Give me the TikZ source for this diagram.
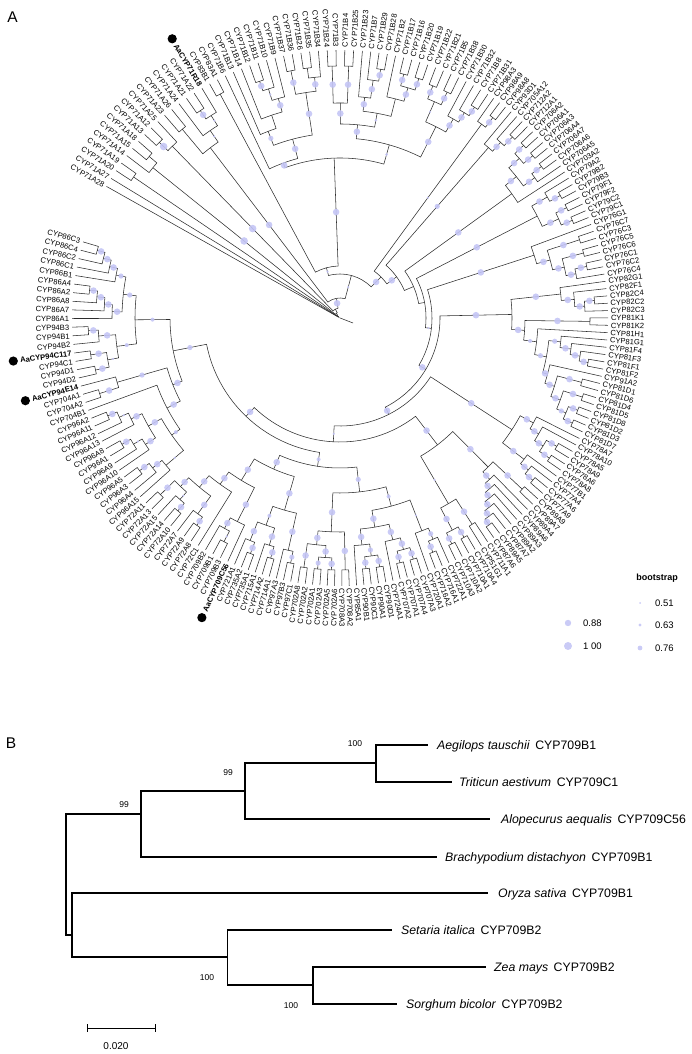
\documentclass[tikz,border=0pt]{standalone}
\usepackage{fontspec}
\setmainfont{Liberation Sans}
\usetikzlibrary{calc}

\definecolor{bootc}{RGB}{196,197,245}
\definecolor{branchc}{RGB}{45,45,45}

\tikzset{
  branch/.style={draw=branchc, line width=0.55pt},
  boot/.style={fill=bootc, fill opacity=0.9},
  leaflbl/.style={inner sep=0.8pt, text height=5.5pt, text depth=0pt, font=\fontsize{7.6}{8}\selectfont},
  aadot/.style={fill=black},
  treeb/.style={line width=1.9pt},
  sp/.style={anchor=west, inner sep=0pt, text height=8.8pt, text depth=0pt, font=\fontsize{12.3}{14}\selectfont},
  bsv/.style={inner sep=0pt, font=\fontsize{8.5}{9}\selectfont},
  legtxt/.style={anchor=west, inner sep=0pt, font=\fontsize{9.5}{10}\selectfont},
}

% store angle and radius of a tree node
\newcommand\setnode[3]{%
  \expandafter\xdef\csname tang#1\endcsname{#2}%
  \expandafter\xdef\csname trad#1\endcsname{#3}}
% bootstrap dot half way along the stem of a child
\newcommand\bsdot[2]{%
  \edef\jD{\csname tdot#1\endcsname}%
  \ifdim\jD pt>0pt
    \edef\jT{\csname tang#1\endcsname}%
    \edef\jRc{\csname trad#1\endcsname}%
    \pgfmathsetmacro\jR{(\jRc+#2)/2}%
    \fill[boot] (\jT:\jR pt) circle (\jD pt);%
  \fi}
% join two children into a new node at radius #5
\newcommand\jn[5][0]{%
  \edef\jA{\csname tang#3\endcsname}\edef\jB{\csname tang#4\endcsname}%
  \edef\jRa{\csname trad#3\endcsname}\edef\jRb{\csname trad#4\endcsname}%
  \draw[branch] (\jA:\jRa pt) -- (\jA:#5pt) arc[start angle=\jA, end angle=\jB, radius=#5pt] -- (\jB:\jRb pt);%
  \bsdot{#3}{#5}\bsdot{#4}{#5}%
  \pgfmathsetmacro\jM{(\jA+\jB)/2}%
  \setnode{#2}{\jM}{#5}%
  \expandafter\xdef\csname tdot#2\endcsname{#1}}

\begin{document}
\begin{tikzpicture}[x=1pt,y=1pt]
\useasboundingbox (0,0) rectangle (692,1054);

%Panel A
\node[inner sep=0, font=\fontsize{15.5}{16}\selectfont] (tagA) at (12.5,1036.5) {A};
\begin{scope}[shift={(340,736)}]
	%Leaves
	\foreach \nm [count=\k from 0] in {CYP71A28, CYP71A27, CYP71A20, CYP71A19, CYP71A14, CYP71A15, CYP71A18, CYP71A13, CYP71A12, CYP71A25, CYP71A23, CYP71A26, CYP71A24, CYP71A21, CYP71A22, \textbf{AaCYP71R18},
		CYP83B1, CYP83A1, CYP71B6, CYP71B13, CYP71B14, CYP71B12, CYP71B11, CYP71B10, CYP71B9, CYP71B37, CYP71B36, CYP71B26, CYP71B35, CYP71B34, CYP71B24, CYP71B3, CYP71B4, CYP71B25, CYP71B23, CYP71B7, CYP71B29, CYP71B28, CYP71B2, CYP71B17, CYP71B16, CYP71B20, CYP71B19, CYP71B22, CYP71B21, CYP71B5, CYP71B38, CYP71B30, CYP71B32, CYP71B8, CYP71B31,
		CYP98A3, CYP98A9, CYP98A8, CYP93D1, CYP705A12, CYP712A2, CYP712A1, CYP706A2, CYP706A1, CYP706A3, CYP706A4, CYP706A7, CYP706A6, CYP706A5, CYP703A2,
		CYP79A2, CYP79B2, CYP79B3, CYP79F1, CYP79F2, CYP79C2, CYP79C1, CYP76G1, CYP76C7, CYP76C3, CYP76C5, CYP76C6, CYP76C1, CYP76C2, CYP76C4,
		CYP82G1, CYP82F1, CYP82C4, CYP82C2, CYP82C3, CYP81K1, CYP81K2, CYP81H1, CYP81G1, CYP81F4, CYP81F3, CYP81F1, CYP81F2, CYP91A2, CYP81D1, CYP81D6, CYP81D4, CYP81D5, CYP81D8, CYP81D2, CYP81D3, CYP81D7,
		CYP78A7, CYP78A10, CYP78A5, CYP78A9, CYP78A6, CYP78A8, CYP77B1, CYP77A4, CYP77A6, CYP77A9, CYP89A9, CYP89A7, CYP89A4, CYP89A6, CYP89A3, CYP89A2, CYP87A7, CYP89A5, CYP87A6,
		CYP711A1, CYP51G1, CYP710A4, CYP710A1, CYP710A2, CYP710A3, CYP722A1, CYP716A1, CYP716A2, CYP720A1, CYP707A3, CYP707A4, CYP707A1, CYP707A2, CYP724A1, CYP90D1, CYP90A1, CYP90C1, CYP90B1, CYP85A1,
		CYP708A2, CYP708A3, CYP702A6, CYP702A5, CYP702A3, CYP702A1, CYP702A2, CYP702A8, CYP97C1, CYP97B3, CYP97A3, CYP714A1, CYP714A2, CYP715A1, CYP735A1, CYP735A2, CYP721A1,
		\textbf{AaCYP709C56}, CYP709B3, CYP709B1, CYP709B2, CYP72C1, CYP72A8, CYP72A9, CYP72A7, CYP72A10, CYP72A14, CYP72A15, CYP72A13, CYP72A11,
		CYP96A15, CYP96A4, CYP96A3, CYP96A5, CYP96A10, CYP96A9, CYP96A1, CYP96A8, CYP96A13, CYP96A12, CYP96A11, CYP96A2, CYP704B1, CYP704A2, CYP704A1,
		\textbf{AaCYP94E14}, CYP94D2, CYP94D1, CYP94C1, \textbf{AaCYP94C117}, CYP94B2, CYP94B1, CYP94B3,
		CYP86A1, CYP86A7, CYP86A8, CYP86A2, CYP86A4, CYP86B1, CYP86C1, CYP86C2, CYP86C4, CYP86C3}{%
		\pgfmathsetmacro\lA{\k<=15 ? 150.6-1.973*\k : (\k<=34 ? 121-1.884*(\k-15) : (\k<=50 ? 85.2-1.79*(\k-34) : (\k<=159 ? 56.6-1.572*(\k-50) : (\k<=191 ? -114.7-1.806*(\k-159) : -172.5-1.846*(\k-191)))))}%
		\setnode{\k}{\lA}{268}%
		\expandafter\xdef\csname tdot\k\endcsname{0}%
		\pgfmathsetmacro\lR{\lA>90 ? \lA-180 : (\lA<-90 ? \lA+180 : \lA)}%
		\ifdim\lA pt>90pt \def\lN{east}\else\ifdim\lA pt<-90pt \def\lN{east}\else\def\lN{west}\fi\fi
		\node[leaflbl, anchor=\lN, rotate=\lR] (L\k) at (\lA:270pt) {\nm};
	}
	%Marked genes
	\foreach \k in {15,159,187,191}
		\fill[aadot] ($(L\k.west)!-6pt!(L\k.east)$) circle (4.6pt);

	%CYP71A
	\jn[3.3]{c1}{13}{14}{250}
	\jn[1.2]{c2}{c1}{15}{240}
	\jn[1.2]{c3}{12}{c2}{228}
	\jn{c4}{10}{11}{246}
	\jn[3.3]{c5}{c4}{c3}{214}
	\jn[3.8]{c6}{7}{8}{252}
	\jn[3.8]{c7}{c6}{9}{240}
	\jn{c8}{5}{6}{250}
	\jn[3.8]{c9}{4}{c8}{240}
	\jn{c10}{2}{3}{250}
	%CYP83 and CYP71B
	\jn{g83}{16}{17}{254}
	\jn[3.3]{s1}{21}{22}{250}
	\jn[1.2]{s2}{s1}{23}{240}
	\jn[3.3]{s3}{s2}{24}{228}
	\jn{s4}{20}{s3}{214}
	\jn[2.6]{s5}{19}{s4}{200}
	\jn[3.3]{s6}{25}{26}{252}
	\jn{s7}{27}{28}{252}
	\jn[3.3]{s8}{s7}{29}{242}
	\jn[3.3]{s9}{s6}{s8}{228}
	\jn[3.3]{s10}{s5}{s9}{185}
	\jn[3.3]{s11}{18}{s10}{165}
	\jn[3.3]{t1}{30}{31}{252}
	\jn[3.3]{t2}{32}{33}{252}
	\jn[3.3]{t3}{t1}{t2}{215}
	\jn[3.3]{t4}{36}{37}{252}
	\jn[3.3]{t5}{35}{t4}{240}
	\jn[3.3]{t6}{34}{t5}{222}
	\jn[3.3]{t7}{39}{40}{252}
	\jn[3.3]{t8}{41}{42}{252}
	\jn[3.3]{t9}{t7}{t8}{240}
	\jn{t10}{38}{t9}{226}
	\jn[1.5]{t11}{t6}{t10}{208}
	\jn[3.3]{t12}{t3}{t11}{194}
	\jn[3.3]{u1}{43}{44}{250}
	\jn[3.3]{u2}{45}{46}{250}
	\jn[1.2]{u3}{u1}{u2}{236}
	\jn[3.3]{u4}{49}{50}{250}
	\jn[3.3]{u5}{48}{u4}{240}
	\jn[3.3]{u6}{47}{u5}{229}
	\jn[3.3]{u7}{u3}{u6}{214}
	\jn[1.5]{t13}{t12}{u7}{180}
	\jn[3.3]{g71b}{s11}{t13}{160}
	\jn[1.2]{g1}{g83}{g71b}{52}
	%CYP98 to CYP76
	\jn[3.3]{v1}{52}{53}{252}
	\jn[1.2]{v2}{51}{v1}{240}
	\jn[3.3]{v3}{56}{57}{250}
	\jn[3.3]{v4}{55}{v3}{238}
	\jn[2.6]{v5}{54}{v4}{226}
	\jn[3.3]{v6}{58}{59}{252}
	\jn[3.3]{v7}{60}{61}{252}
	\jn[3.3]{v8}{v6}{v7}{240}
	\jn[3.3]{v9}{62}{63}{252}
	\jn[3.3]{v10}{v9}{64}{240}
	\jn[3.3]{v11}{v8}{v10}{226}
	\jn[3.3]{v12}{v11}{65}{212}
	\jn[3.3]{w1}{67}{68}{252}
	\jn[3.3]{w2}{66}{w1}{240}
	\jn[3.3]{w3}{69}{70}{252}
	\jn[3.3]{w4}{71}{72}{252}
	\jn[3.3]{w5}{w3}{w4}{240}
	\jn[3.3]{w6}{w2}{w5}{222}
	\jn[3.3]{x1}{74}{75}{252}
	\jn[3.3]{x2}{76}{77}{252}
	\jn[3.3]{x3}{78}{79}{252}
	\jn[3.3]{x4}{x3}{80}{240}
	\jn[3.3]{x5}{x2}{x4}{230}
	\jn[3.3]{x6}{x1}{x5}{218}
	\jn[3.3]{x7}{73}{x6}{204}
	%CYP82 and CYP81
	\jn[3.3]{a1}{83}{84}{255}
	\jn[3.3]{a2}{a1}{85}{245}
	\jn[3.3]{a3}{82}{a2}{235}
	\jn[3.3]{a4}{81}{a3}{222}
	\jn[3.3]{e1}{101}{102}{255}
	\jn[3.3]{e2}{99}{100}{255}
	\jn[2.6]{e3}{e2}{e1}{245}
	\jn[3.3]{e4}{97}{98}{255}
	\jn[3.3]{e5}{e4}{e3}{235}
	\jn[3.3]{e6}{95}{96}{250}
	\jn[3.3]{e7}{e6}{e5}{225}
	\jn[3.3]{e8}{94}{e7}{215}
	\jn[3.3]{e9}{92}{93}{252}
	\jn[3.3]{e10}{91}{e9}{243}
	\jn[3.3]{e11}{90}{e10}{233}
	\jn[2.6]{e12}{89}{e11}{222}
	\jn[2.6]{e13}{e12}{e8}{210}
	\jn[2]{e14}{88}{e13}{198}
	\jn[3.3]{e15}{86}{87}{250}
	\jn[3.3]{e16}{e15}{e14}{185}
	\jn[3.3]{g82}{a4}{e16}{172}
	%CYP78, CYP77, CYP89, CYP87
	\jn[3.3]{f1}{105}{106}{252}
	\jn[3.3]{f2}{107}{108}{252}
	\jn[3.3]{f3}{f1}{f2}{240}
	\jn[3.3]{f4}{104}{f3}{230}
	\jn[3.3]{f5}{103}{f4}{220}
	\jn[3.3]{f6}{111}{112}{252}
	\jn[3.3]{f7}{110}{f6}{242}
	\jn[3.3]{f8}{109}{f7}{232}
	\jn[3.3]{f9}{f5}{f8}{205}
	\jn[3.3]{h0}{113}{114}{250}
	\jn[3.3]{h1}{120}{121}{255}
	\jn[3.3]{h2}{119}{h1}{248}
	\jn[3.3]{h3}{118}{h2}{241}
	\jn[3.3]{h4}{117}{h3}{234}
	\jn[3.3]{h5}{116}{h4}{227}
	\jn[3.3]{h6}{115}{h5}{220}
	\jn[3.3]{h7}{h0}{h6}{210}
	\jn[3.3]{i1}{122}{123}{245}
	\jn[3.3]{i2}{124}{125}{252}
	\jn[3.3]{i3}{126}{127}{252}
	\jn[3.3]{i4}{i2}{i3}{240}
	\jn[1.2]{i5}{i1}{i4}{215}
	\jn[3.3]{lr2}{h7}{i5}{160}
	%Bottom clades
	\jn[3.3]{l1}{129}{130}{252}
	\jn[2.6]{l2}{128}{l1}{240}
	\jn[1.2]{l3}{l2}{131}{228}
	\jn[3.3]{l4}{132}{133}{252}
	\jn[3.3]{l5}{134}{135}{252}
	\jn[3.3]{l6}{l4}{l5}{240}
	\jn[3.3]{l7}{l6}{136}{228}
	\jn[3.3]{l8}{137}{138}{252}
	\jn[3.3]{l9}{139}{140}{252}
	\jn[2.6]{l10}{l8}{l9}{240}
	\jn[3.3]{l11}{l10}{141}{228}
	\jn[3.3]{l12}{l7}{l11}{212}
	\jn[2]{l13}{l3}{l12}{195}
	\jn[3.3]{l14}{142}{143}{252}
	\jn[3.3]{l15}{144}{145}{252}
	\jn[2.6]{l16}{146}{147}{252}
	\jn[3.3]{l17}{148}{149}{252}
	\jn[3.3]{l18}{l15}{l16}{240}
	\jn[3.3]{l19}{l18}{l17}{228}
	\jn[3.3]{l20}{l14}{l19}{214}
	\jn[2.6]{l21}{l13}{l20}{175}
	\jn[2.6]{l22}{150}{151}{250}
	\jn[3.3]{l23}{l22}{152}{238}
	\jn[3.3]{l24}{153}{154}{250}
	\jn[3.3]{l25}{l24}{155}{238}
	\jn[3.3]{l26}{156}{157}{252}
	\jn[3.3]{l27}{l26}{158}{240}
	\jn[2]{l28}{l25}{l27}{220}
	\jn[3.3]{l29}{l23}{l28}{200}
	\jn[1.2]{m1}{160}{161}{252}
	\jn[3.3]{m2}{m1}{162}{240}
	\jn[3.3]{m3}{159}{m2}{228}
	\jn[3.3]{m5}{164}{165}{252}
	\jn[3.3]{m6}{m5}{166}{242}
	\jn[3.3]{m7}{167}{168}{252}
	\jn[1.2]{m8}{m7}{169}{242}
	\jn[3.3]{m9}{170}{171}{252}
	\jn[3.3]{m10}{m8}{m9}{232}
	\jn[3.3]{m11}{m6}{m10}{220}
	\jn[3.3]{m12}{163}{m11}{205}
	\jn[3.3]{m13}{m3}{m12}{190}
	%CYP96, CYP704, CYP94, CYP86
	\jn[3.3]{n1}{174}{175}{252}
	\jn[3.3]{n2}{173}{n1}{240}
	\jn[1.2]{n3}{172}{n2}{228}
	\jn[3.3]{n4}{178}{179}{252}
	\jn[1.2]{n5}{177}{n4}{242}
	\jn[3.3]{n6}{176}{n5}{232}
	\jn[3.3]{n7}{182}{183}{252}
	\jn[1.2]{n8}{181}{n7}{242}
	\jn[3.3]{n9}{180}{n8}{232}
	\jn[3.3]{n10}{n6}{n9}{220}
	\jn[2]{n11}{n3}{n10}{205}
	\jn[3.3]{n12}{n11}{184}{195}
	\jn[3.3]{o1}{185}{186}{252}
	\jn[2.6]{o2}{o1}{187}{232}
	\jn[3.3]{o3}{n12}{o2}{180}
	\jn[3.3]{p1}{193}{194}{252}
	\jn[3.3]{p2}{192}{p1}{242}
	\jn[3.3]{p3}{190}{191}{252}
	\jn[3.3]{p4}{188}{189}{250}
	\jn[1.2]{p5}{p4}{p3}{236}
	\jn[2]{p6}{p5}{p2}{225}
	\jn[3.3]{q1}{198}{199}{252}
	\jn[3.3]{q2}{197}{q1}{244}
	\jn[3.3]{q3}{196}{q2}{236}
	\jn[3.3]{q4}{195}{q3}{228}
	\jn[3.3]{q5}{203}{204}{252}
	\jn[3.3]{q6}{202}{q5}{244}
	\jn[3.3]{q7}{201}{q6}{236}
	\jn[2.6]{q8}{200}{q7}{228}
	\jn[2.6]{q9}{q4}{q8}{218}
	\jn[2]{p8}{p6}{q9}{205}
	\jn[2.6]{r8}{o3}{p8}{170}
	%Backbone
	\jn[3.3]{b1}{l29}{m13}{165}
	\jn[2]{b2}{l21}{b1}{150}
	\jn[3.3]{b3}{b2}{r8}{136}
	\jn[1.2]{d1}{lr2}{b3}{124}
	\jn[3.3]{d2}{f9}{d1}{108}
	\jn[3.3]{z0}{g82}{d2}{100}
	\jn[1.2]{z1}{x7}{z0}{92}
	\jn{z2}{w6}{z1}{86}
	\jn{z3}{v12}{z2}{80}
	\jn[3.3]{z4}{v5}{z3}{70}
	\jn[3.3]{z5}{v2}{z4}{58}
	\jn[1.2]{k1}{g1}{z5}{44}
	\jn[3.3]{k2}{c5}{k1}{20}
	\jn{k3}{c7}{k2}{10}
	\jn{k4}{c9}{k3}{6}
	\jn{k5}{c10}{k4}{4}
	\jn{k6}{1}{k5}{2}
	\jn{k7}{0}{k6}{1}
	\coordinate (root) at (0,0);
	\draw[branch] (root) -- (-21:14pt);
\end{scope}

%Legend
\node[inner sep=0, font=\bfseries\fontsize{9}{10}\selectfont] (bstitle) at (657,476) {bootstrap};
\coordinate (lg1) at (640,451);
\coordinate (lg2) at (640,429);
\coordinate (lg3) at (640,406);
\coordinate (lg4) at (568,431);
\coordinate (lg5) at (568,408);
\fill[boot] (lg1) circle (1pt);
\fill[boot] (lg2) circle (1.7pt);
\fill[boot] (lg3) circle (2.4pt);
\fill[boot] (lg4) circle (3.2pt);
\fill[boot] (lg5) circle (4pt);
\node[legtxt] (lt1) at (655,451) {0.51};
\node[legtxt] (lt2) at (655,429) {0.63};
\node[legtxt] (lt3) at (655,406) {0.76};
\node[legtxt] (lt4) at (583,431) {0.88};
\node[legtxt] (lt5) at (583,408) {1 00};

%Panel B
\node[inner sep=0, font=\fontsize{15.5}{16}\selectfont] (tagB) at (11,311) {B};
\coordinate (r0) at (65.6,180);
\coordinate (nA) at (141,240);
\coordinate (nB) at (245,263);
\coordinate (nC) at (376,291);
\coordinate (nD) at (72.3,119);
\coordinate (nE) at (227.5,97);
\coordinate (nF) at (312.6,69);
\node[sp] (aeg) at (437,309) {\textit{Aegilops tauschii}\hspace{0.45em}CYP709B1};
\node[sp] (tri) at (459,272) {\textit{Triticun aestivum}\hspace{0.45em}CYP709C1};
\node[sp] (alo) at (501,235) {\textit{Alopecurus aequalis}\hspace{0.45em}CYP709C56};
\node[sp] (bra) at (445,197) {\textit{Brachypodium distachyon}\hspace{0.45em}CYP709B1};
\node[sp] (ory) at (498,161) {\textit{Oryza sativa}\hspace{0.45em}CYP709B1};
\node[sp] (set) at (401,124) {\textit{Setaria italica}\hspace{0.45em}CYP709B2};
\node[sp] (zea) at (494,87) {\textit{Zea mays}\hspace{0.45em}CYP709B2};
\node[sp] (sor) at (406,50) {\textit{Sorghum bicolor}\hspace{0.45em}CYP709B2};
\draw[treeb] (r0) |- (nA);
\draw[treeb] (r0) |- (nD);
\draw[treeb] (nA) |- (nB);
\draw[treeb] (nA) |- ([xshift=-8pt]bra.west);
\draw[treeb] (nB) |- (nC);
\draw[treeb] (nB) |- ([xshift=-11pt]alo.west);
\draw[treeb] (nC) |- ([xshift=-9pt]aeg.west);
\draw[treeb] (nC) |- ([xshift=-7pt]tri.west);
\draw[treeb] (nD) |- ([xshift=-10pt]ory.west);
\draw[treeb] (nD) |- (nE);
\draw[treeb] (nE) |- ([xshift=-9pt]set.west);
\draw[treeb] (nE) |- (nF);
\draw[treeb] (nF) |- ([xshift=-8pt]zea.west);
\draw[treeb] (nF) |- ([xshift=-9pt]sor.west);
%Bootstrap values
\node[bsv] (bs1) at (355,310) {100};
\node[bsv] (bs2) at (228,281) {99};
\node[bsv] (bs3) at (124,249) {99};
\node[bsv] (bs4) at (207,76) {100};
\node[bsv] (bs5) at (291,48) {100};
%Scale bar
\coordinate (sb1) at (87,26);
\coordinate (sb2) at (155,26);
\draw[line width=0.9pt] ([yshift=-4pt]sb1) -- ([yshift=4pt]sb1) (sb1) -- (sb2) ([yshift=-4pt]sb2) -- ([yshift=4pt]sb2);
\node[inner sep=0, font=\fontsize{10}{10}\selectfont] (sbl) at (116,8) {0.020};
\end{tikzpicture}
\end{document}
